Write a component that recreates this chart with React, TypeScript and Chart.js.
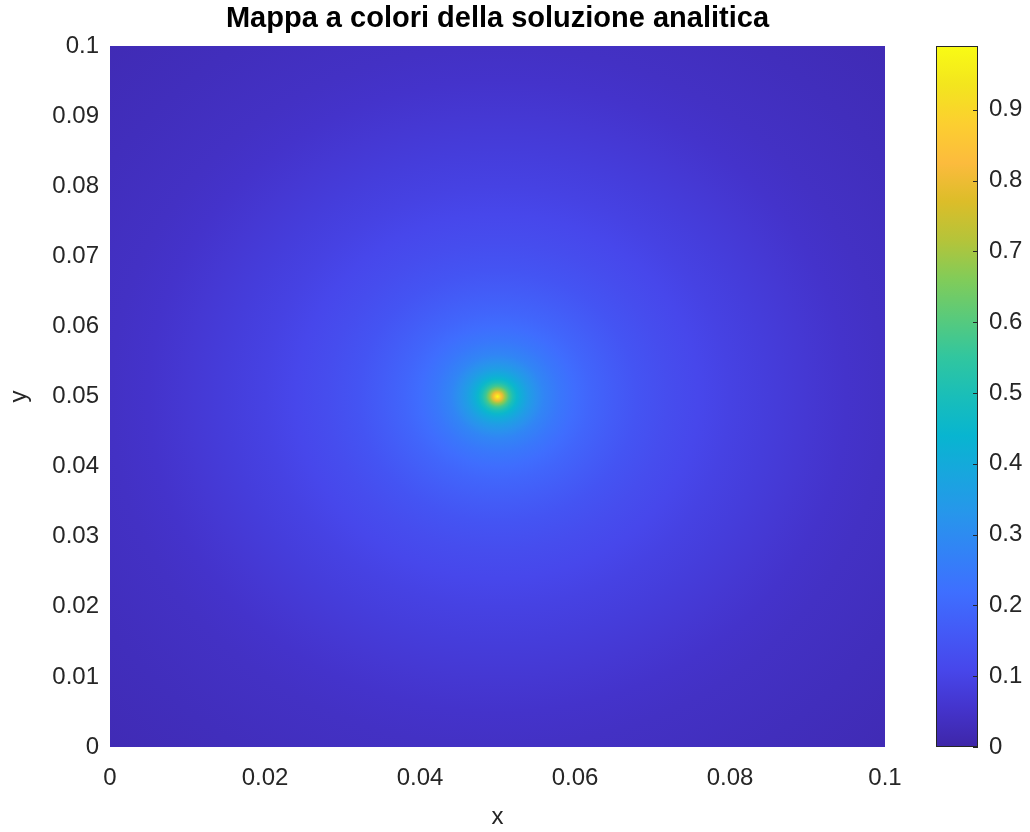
import React, { useEffect, useRef } from "react";
import { Chart, registerables } from "chart.js";

Chart.register(...registerables);

// ---------- data ----------
const titleText = "Mappa a colori della soluzione analitica";
const xLabel = "x";
const yLabel = "y";

const xTicks = [0, 0.02, 0.04, 0.06, 0.08, 0.1];
const yTicks = [0, 0.01, 0.02, 0.03, 0.04, 0.05, 0.06, 0.07, 0.08, 0.09, 0.1];
const colorbarTicks = [0, 0.1, 0.2, 0.3, 0.4, 0.5, 0.6, 0.7, 0.8, 0.9];
const colorLimits = [0, 0.99];

// source location (centre of the colour map)
const sourceX = [0.05];
const sourceY = [0.05];

// radial profile of the analytic solution, distance from the source
const radialDistance = [
  0, 0.0003, 0.0006, 0.001, 0.0015, 0.002, 0.0025, 0.003, 0.004, 0.005,
  0.006, 0.008, 0.01, 0.012, 0.015, 0.018, 0.022, 0.026, 0.03, 0.035,
  0.04, 0.045, 0.05, 0.06, 0.0707,
];
const solutionValue = [
  0.99, 0.9, 0.8, 0.68, 0.57, 0.5, 0.45, 0.41, 0.355, 0.315,
  0.282, 0.242, 0.214, 0.192, 0.167, 0.146, 0.126, 0.109, 0.095, 0.08,
  0.066, 0.053, 0.042, 0.03, 0.02,
];

// ---------- style ----------
const FONT = "'Liberation Sans', Arial, Helvetica, sans-serif";
const TEXT = "#262626";
// parula colour map (position 0..1, r, g, b)
const parulaStops: number[][] = [
  [0.0, 62, 38, 168],
  [0.056, 68, 52, 205],
  [0.111, 71, 71, 235],
  [0.167, 67, 91, 247],
  [0.222, 62, 111, 255],
  [0.278, 50, 131, 246],
  [0.333, 39, 150, 235],
  [0.389, 24, 166, 222],
  [0.444, 8, 181, 208],
  [0.5, 25, 190, 185],
  [0.556, 49, 198, 159],
  [0.611, 88, 202, 124],
  [0.667, 129, 204, 89],
  [0.722, 180, 196, 58],
  [0.778, 220, 189, 41],
  [0.833, 252, 187, 61],
  [0.889, 252, 207, 48],
  [0.944, 243, 229, 30],
  [1.0, 249, 251, 20],
];

function parula(v: number): string {
  let t = (v - colorLimits[0]) / (colorLimits[1] - colorLimits[0]);
  t = Math.max(0, Math.min(1, t));
  let i = 0;
  while (i < parulaStops.length - 2 && t > parulaStops[i + 1][0]) i++;
  const a = parulaStops[i];
  const b = parulaStops[i + 1];
  const f = (t - a[0]) / (b[0] - a[0]);
  const c = [1, 2, 3].map((k) => Math.round(a[k] + (b[k] - a[k]) * f));
  return `rgb(${c[0]},${c[1]},${c[2]})`;
}

const fmt = (v: number) => String(parseFloat(Number(v).toFixed(4)));

const heatmapPlugin = {
  id: "heatmap",
  beforeDatasetsDraw(chart: any) {
    const { ctx, scales } = chart;
    const x = scales.x;
    const y = scales.y;
    const left = x.getPixelForValue(xTicks[0]);
    const right = x.getPixelForValue(xTicks[xTicks.length - 1]);
    const top = y.getPixelForValue(yTicks[yTicks.length - 1]);
    const bottom = y.getPixelForValue(yTicks[0]);
    const cx = x.getPixelForValue(sourceX[0]);
    const cy = y.getPixelForValue(sourceY[0]);
    const kx = x.getPixelForValue(1) - x.getPixelForValue(0);
    const ky = y.getPixelForValue(0) - y.getPixelForValue(1);
    const rMax = radialDistance[radialDistance.length - 1];
    const R = rMax * kx;
    ctx.save();
    ctx.beginPath();
    ctx.rect(left, top, right - left, bottom - top);
    ctx.clip();
    ctx.translate(cx, cy);
    ctx.scale(1, ky / kx);
    const g = ctx.createRadialGradient(0, 0, 0, 0, 0, R);
    radialDistance.forEach((r, i) => g.addColorStop(r / rMax, parula(solutionValue[i])));
    ctx.fillStyle = g;
    ctx.fillRect(-2 * R, -2 * R, 4 * R, 4 * R);
    ctx.restore();
  },
  afterDraw(chart: any) {
    const { ctx, scales, chartArea } = chart;
    const cb = scales.cb;
    // colorbar
    const barLeft = chartArea.right + 51;
    const barW = 42;
    const top = cb.getPixelForValue(colorLimits[1]);
    const bottom = cb.getPixelForValue(colorLimits[0]);
    ctx.save();
    const g = ctx.createLinearGradient(0, bottom, 0, top);
    parulaStops.forEach((s) => {
      const t = s[0];
      g.addColorStop(t, parula(colorLimits[0] + t * (colorLimits[1] - colorLimits[0])));
    });
    ctx.fillStyle = g;
    ctx.fillRect(barLeft, top, barW, bottom - top);
    ctx.strokeStyle = TEXT;
    ctx.lineWidth = 1;
    ctx.strokeRect(barLeft + 0.5, top + 0.5, barW - 1, bottom - top - 1);
    colorbarTicks.forEach((v) => {
      const py = Math.round(cb.getPixelForValue(v)) + 0.5;
      ctx.beginPath();
      ctx.moveTo(barLeft + barW - 5, py);
      ctx.lineTo(barLeft + barW, py);
      ctx.stroke();
    });
    // title
    ctx.fillStyle = "#000";
    ctx.font = `bold 29px ${FONT}`;
    ctx.textAlign = "center";
    ctx.textBaseline = "middle";
    ctx.fillText(titleText, (chartArea.left + chartArea.right) / 2, 19);
    ctx.restore();
  },
};

const tickFont = { size: 24, family: FONT };

const noPad = (s: any) => {
  s.paddingTop = 0;
  s.paddingBottom = 0;
  s.paddingLeft = 0;
  s.paddingRight = 0;
};

export default function App() {
  const ref = useRef<HTMLCanvasElement>(null);
  useEffect(() => {
    const chart = new Chart(ref.current as HTMLCanvasElement, {
      type: "scatter",
      data: { datasets: [] },
      options: {
        responsive: false,
        devicePixelRatio: 1,
        animation: false,
        layout: { padding: { top: 46, left: 0, right: 0, bottom: 0 } },
        plugins: { legend: { display: false }, tooltip: { enabled: false }, title: { display: false } },
        scales: {
          x: {
            type: "linear",
            position: "bottom",
            min: xTicks[0],
            max: xTicks[xTicks.length - 1],
            grid: { display: false, drawTicks: false },
            border: { display: false },
            afterBuildTicks: (s: any) => {
              s.ticks = xTicks.map((v) => ({ value: v }));
            },
            afterFit: (s: any) => {
              s.height = 85;
              noPad(s);
            },
            ticks: {
              font: tickFont,
              color: TEXT,
              padding: 17,
              maxRotation: 0,
              autoSkip: false,
              callback: (v: any) => fmt(v),
            },
            title: {
              display: true,
              text: xLabel,
              font: tickFont,
              color: TEXT,
              padding: { top: 0, bottom: 0 },
            },
          },
          y: {
            type: "linear",
            position: "left",
            min: yTicks[0],
            max: yTicks[yTicks.length - 1],
            grid: { display: false, drawTicks: false },
            border: { display: false },
            afterBuildTicks: (s: any) => {
              s.ticks = yTicks.map((v) => ({ value: v }));
            },
            afterFit: (s: any) => {
              s.width = 110;
              noPad(s);
            },
            ticks: {
              font: tickFont,
              color: TEXT,
              padding: 11,
              autoSkip: false,
              callback: (v: any) => fmt(v),
            },
            title: {
              display: true,
              text: yLabel,
              font: tickFont,
              color: TEXT,
              padding: { top: 5, bottom: 0 },
            },
          },
          cb: {
            type: "linear",
            position: "right",
            min: colorLimits[0],
            max: colorLimits[1],
            grid: { display: false, drawTicks: false },
            border: { display: false },
            afterBuildTicks: (s: any) => {
              s.ticks = colorbarTicks.map((v) => ({ value: v }));
            },
            afterFit: (s: any) => {
              s.width = 145;
              noPad(s);
            },
            ticks: {
              font: tickFont,
              color: TEXT,
              padding: 104,
              autoSkip: false,
              callback: (v: any) => fmt(v),
            },
          },
        },
      },
      plugins: [heatmapPlugin],
    } as any);
    return () => chart.destroy();
  }, []);
  return (
    <div style={{ position: "absolute", left: 0, top: 0, width: 1030, height: 832, background: "#fff" }}>
      <canvas ref={ref} width={1030} height={832} style={{ display: "block" }} />
    </div>
  );
}
